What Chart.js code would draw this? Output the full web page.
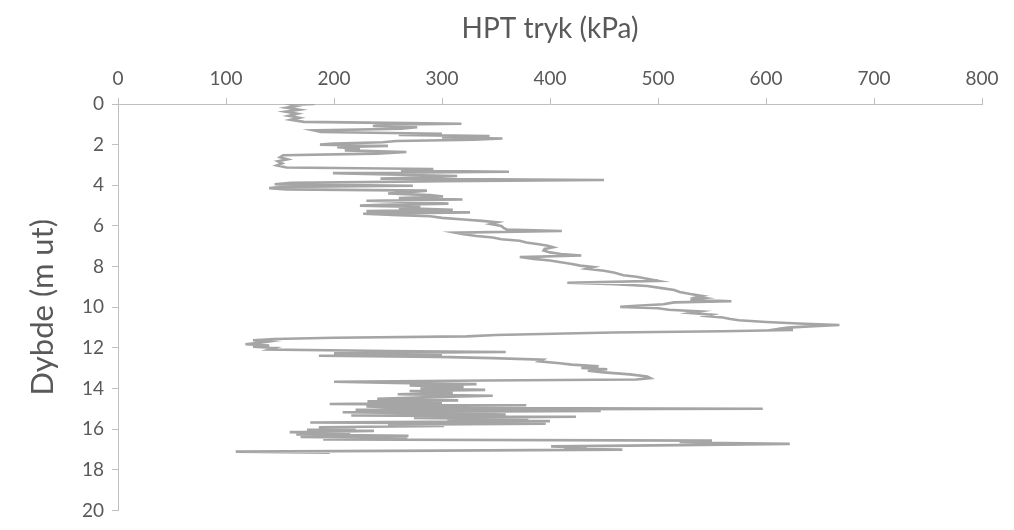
<!DOCTYPE html>
<html>
<head>
<meta charset="utf-8">
<script src="https://cdn.jsdelivr.net/npm/chart.js@4.4.1/dist/chart.umd.min.js"></script>
<style>
  html, body { margin: 0; padding: 0; background: #ffffff; }
  #wrap { width: 1014px; height: 530px; position: relative; }
</style>
</head>
<body>
<div id="wrap"><canvas id="c" width="1014" height="530"></canvas></div>
<script>
// Depth (m ut) of each reading
const depth = [
  0.00,0.03,0.10,0.18,0.28,0.38,0.48,0.58,0.68,0.78,0.88,0.93,0.97,1.02,1.08,1.14,1.22,1.30,1.38,1.46,
  1.52,1.58,1.64,1.70,1.76,1.82,1.88,1.95,2.00,2.06,2.12,2.20,2.28,2.36,2.44,2.52,2.62,2.72,2.82,2.92,
  3.02,3.12,3.20,3.27,3.33,3.40,3.47,3.54,3.60,3.67,3.74,3.80,3.88,3.95,4.02,4.08,4.14,4.20,4.26,4.32,
  4.40,4.48,4.55,4.62,4.70,4.76,4.82,4.90,4.96,5.00,5.06,5.12,5.20,5.27,5.33,5.40,5.47,5.52,5.60,5.68,
  5.75,5.82,5.90,6.00,6.09,6.17,6.25,6.33,6.41,6.49,6.57,6.65,6.73,6.81,6.89,6.97,7.05,7.13,7.21,7.30,
  7.38,7.45,7.53,7.62,7.70,7.78,7.86,7.95,8.02,8.10,8.20,8.30,8.42,8.50,8.60,8.70,8.79,8.86,8.95,9.07,
  9.15,9.25,9.35,9.44,9.50,9.55,9.62,9.70,9.76,9.85,9.92,9.98,10.05,10.12,10.20,10.28,10.36,10.43,10.50,10.58,
  10.64,10.72,10.80,10.87,10.94,11.00,11.06,11.12,11.18,11.24,11.30,11.36,11.43,11.50,11.56,11.62,11.68,11.75,11.82,11.88,
  11.94,12.00,12.08,12.15,12.20,12.26,12.32,12.38,12.44,12.50,12.58,12.66,12.75,12.82,12.90,12.98,13.05,13.12,13.20,13.30,
  13.40,13.48,13.55,13.60,13.66,13.72,13.78,13.85,13.92,14.00,14.06,14.12,14.20,14.28,14.35,14.42,14.50,14.58,14.62,14.70,
  14.76,14.82,14.88,14.94,14.99,15.04,15.10,15.16,15.22,15.27,15.32,15.38,15.44,15.50,15.54,15.60,15.67,15.72,15.78,15.84,
  15.90,15.96,16.02,16.08,16.14,16.20,16.26,16.32,16.38,16.44,16.50,16.56,16.62,16.68,16.72,16.78,16.84,16.90,16.96,17.00,
  17.05,17.10,17.15
];
// HPT tryk (kPa) at each depth
const pressure = [
  182,160,165,156,168,155,166,158,168,160,172,250,318,245,236,277,262,181,188,300,
  260,344,300,356,330,258,245,200,187,250,203,224,210,267,240,153,150,157,148,152,
  147,156,292,262,362,199,250,314,290,243,450,300,160,145,273,150,140,156,286,275,
  250,289,301,260,319,230,270,306,245,224,280,260,310,230,326,227,260,289,300,320,
  337,351,345,355,357,360,411,312,320,332,347,355,372,378,388,398,403,395,394,400,
  410,429,372,385,400,410,419,428,440,434,450,460,468,480,490,500,416,460,490,505,
  515,520,530,541,536,543,530,568,515,505,480,465,500,510,539,530,550,545,560,567,
  575,600,630,668,640,620,612,625,560,458,403,350,323,200,145,125,140,130,118,140,
  125,145,140,250,359,200,300,186,297,347,393,390,409,420,445,429,453,435,450,474,
  490,493,480,340,200,256,332,270,320,280,340,270,310,259,347,290,240,315,231,300,
  196,378,230,260,597,220,447,208,300,359,216,424,274,380,305,400,178,396,250,302,
  186,220,175,237,159,215,165,269,169,268,190,550,520,560,622,520,401,434,413,467,
  300,109,196
];
// Axis tick settings
const xTicks = [0,100,200,300,400,500,600,700,800];
const yTicks = [0,2,4,6,8,10,12,14,16,18,20];

const points = depth.map((d, i) => ({ x: pressure[i], y: d }));
const FONT = 'Lato, "Open Sans", sans-serif';
const TXT = '#595959';
const AXIS = '#bfbfbf';

new Chart(document.getElementById('c'), {
  type: 'scatter',
  data: {
    datasets: [{
      data: points,
      showLine: true,
      borderColor: '#a5a5a5',
      borderWidth: 2.6,
      pointRadius: 0,
      tension: 0,
      fill: false
    }]
  },
  options: {
    responsive: false,
    animation: false,
    events: [],
    layout: { padding: { left: 22, top: 10, right: 32, bottom: 12 } },
    plugins: { legend: { display: false }, tooltip: { enabled: false } },
    scales: {
      x: {
        type: 'linear',
        position: 'top',
        min: 0, max: 800,
        afterBuildTicks: s => { s.ticks = xTicks.map(v => ({ value: v })); },
        ticks: { color: TXT, font: { family: FONT, size: 19 }, padding: 8 },
        grid: { drawOnChartArea: false, drawTicks: true, tickLength: 6, color: AXIS, lineWidth: 1 },
        border: { color: AXIS, width: 1 },
        title: { display: true, text: 'HPT tryk (kPa)', color: TXT, font: { family: FONT, size: 28 }, padding: { top: 2, bottom: 2 } },
        afterFit: s => { s.height = 94; }
      },
      y: {
        type: 'linear',
        reverse: true,
        min: 0, max: 20,
        afterBuildTicks: s => { s.ticks = yTicks.map(v => ({ value: v })); },
        ticks: { color: TXT, font: { family: FONT, size: 19 }, padding: 8 },
        grid: { drawOnChartArea: false, drawTicks: true, tickLength: 6, color: AXIS, lineWidth: 1 },
        border: { color: AXIS, width: 1 },
        title: { display: true, text: 'Dybde (m ut)', color: TXT, font: { family: FONT, size: 31 }, padding: { top: 2, bottom: 4 } },
        afterFit: s => { s.width = 96; }
      }
    }
  }
});
</script>
</body>
</html>
